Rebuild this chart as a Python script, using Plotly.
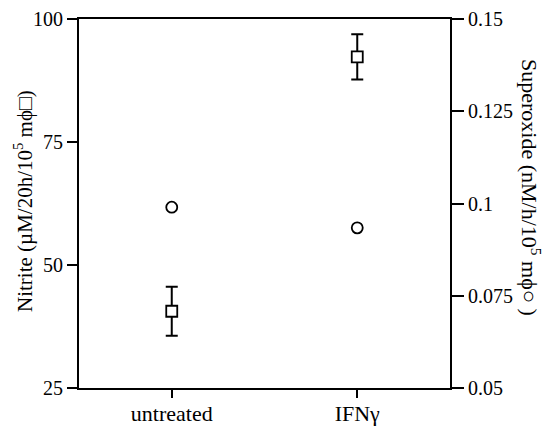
import plotly.graph_objects as go

categories = ["untreated", "IFNγ"]
nitrite = [40.6, 92.3]
nitrite_err = [5.0, 4.6]
superoxide = [0.099, 0.0934]

left_ticks = [25, 50, 75, 100]
right_ticks = [0.05, 0.075, 0.1, 0.125, 0.15]
right_ticktext = ["0.05", "0.075", "0.1", "0.125", "0.15"]

FONT = "Liberation Serif"
xpos = list(range(len(categories)))

fig = go.Figure()
fig.add_trace(go.Scatter(
    x=xpos, y=nitrite, mode="markers",
    marker=dict(symbol="square", size=11, color="white",
                line=dict(color="black", width=1.8)),
    error_y=dict(type="data", array=nitrite_err, visible=True,
                 color="black", thickness=2, width=6),
    showlegend=False, cliponaxis=False,
))
fig.add_trace(go.Scatter(
    x=xpos, y=superoxide, mode="markers", yaxis="y2",
    marker=dict(symbol="circle", size=11, color="white",
                line=dict(color="black", width=1.8)),
    showlegend=False, cliponaxis=False,
))

axis_common = dict(showline=True, linecolor="black", linewidth=2,
                   ticks="outside", tickcolor="black", tickwidth=1.5,
                   showgrid=False, zeroline=False, automargin=False,
                   tickfont=dict(family=FONT, size=20, color="black"))

fig.update_layout(
    width=550, height=434,
    margin=dict(l=79, r=100, t=19, b=46),
    paper_bgcolor="white", plot_bgcolor="white",
    font=dict(family=FONT, color="black"),
    xaxis=dict(axis_common, range=[-0.5, 1.5], tickvals=xpos,
               ticktext=categories, ticklen=8, mirror=True,
               ticklabelstandoff=-3,
               tickfont=dict(family=FONT, size=22, color="black")),
    yaxis=dict(axis_common, range=[25, 100], tickvals=left_ticks,
               ticklen=10),
    yaxis2=dict(axis_common, range=[0.05, 0.15], tickvals=right_ticks,
                ticktext=right_ticktext, ticklen=12, overlaying="y",
                side="right"),
    annotations=[
        dict(text="Nitrite (µM/20h/10<sup>5</sup> mϕ□)", textangle=-90,
             xref="paper", yref="paper", x=-0.148, y=0.507,
             xanchor="center", yanchor="middle", showarrow=False,
             font=dict(family=FONT, size=21, color="black")),
        dict(text="Superoxide (nM/h/10<sup>5</sup> mϕ○ )", textangle=90,
             xref="paper", yref="paper", x=1.22, y=0.543,
             xanchor="center", yanchor="middle", showarrow=False,
             font=dict(family=FONT, size=22, color="black")),
    ],
)

fig.write_html(
    "out.html",
    config={"displayModeBar": False},
    post_script="document.body.style.margin='0';document.body.style.overflow='hidden';",
)
